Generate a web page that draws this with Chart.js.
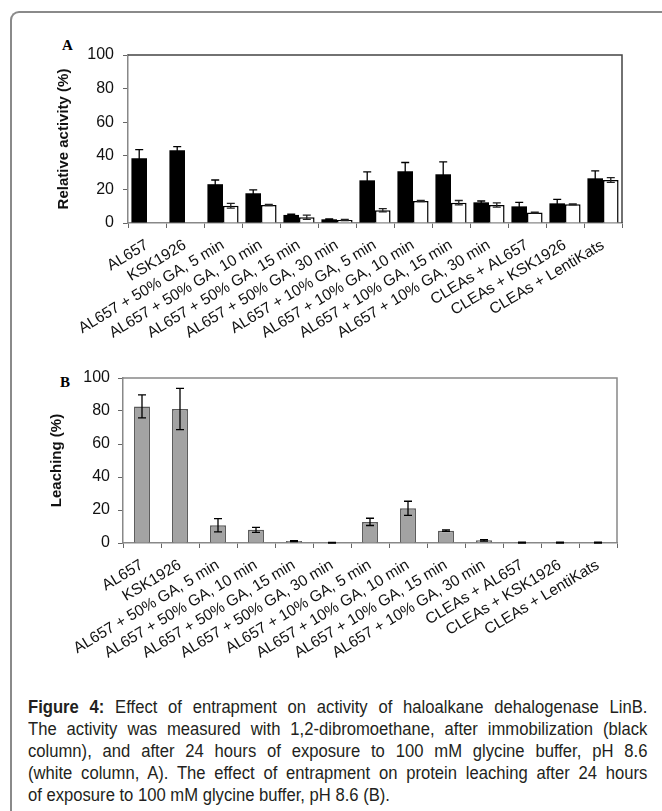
<!DOCTYPE html>
<html>
<head>
<meta charset="utf-8">
<script src="https://cdn.jsdelivr.net/npm/chart.js@4.4.1/dist/chart.umd.min.js"></script>
<style>
  html, body { margin: 0; padding: 0; background: #fff; }
  body { width: 662px; height: 811px; position: relative; overflow: hidden; font-family: "Liberation Sans", Arial, sans-serif; }
  #frame {
    position: absolute; left: 10px; top: 11px; width: 700px; height: 850px;
    border-top: 2px solid #8a8a8a; border-left: 2px solid #8a8a8a;
    border-top-left-radius: 9px;
  }
  .wrap { position: absolute; left: 0; width: 650px; }
  #wrapA { top: 30px; height: 330px; }
  #wrapB { top: 350px; height: 330px; }
  .panel {
    position: absolute; font-family: "Liberation Serif", "Times New Roman", serif;
    font-weight: bold; font-size: 15px; color: #000;
  }
  #caption {
    position: absolute; left: 28px; top: 696px; width: 620px;
    font-family: "Liberation Sans", Arial, sans-serif;
    font-size: 17.5px; line-height: 22px; color: #231f20;
  }
  #caption div {
    width: 652px; transform: scaleX(0.95); transform-origin: 0 0;
    text-align: justify; text-align-last: justify; white-space: nowrap;
  }
  #caption div.last { text-align-last: left; }
</style>
</head>
<body>
<div id="frame"></div>
<div class="panel" style="left:62px; top:37px;">A</div>
<div class="panel" style="left:60px; top:374px;">B</div>
<div class="wrap" id="wrapA"><canvas id="chartA"></canvas></div>
<div class="wrap" id="wrapB"><canvas id="chartB"></canvas></div>
<div id="caption">
  <div><b>Figure 4:</b> Effect of entrapment on activity of haloalkane dehalogenase LinB.</div>
  <div>The activity was measured with 1,2-dibromoethane, after immobilization (black</div>
  <div>column), and after 24 hours of exposure to 100 mM glycine buffer, pH 8.6</div>
  <div>(white column, A). The effect of entrapment on protein leaching after 24 hours</div>
  <div class="last">of exposure to 100 mM glycine buffer, pH 8.6 (B).</div>
</div>

<script>
// categories shared by both panels
const categories = [
  'AL657', 'KSK1926',
  'AL657 + 50% GA, 5 min', 'AL657 + 50% GA, 10 min', 'AL657 + 50% GA, 15 min', 'AL657 + 50% GA, 30 min',
  'AL657 + 10% GA, 5 min', 'AL657 + 10% GA, 10 min', 'AL657 + 10% GA, 15 min', 'AL657 + 10% GA, 30 min',
  'CLEAs + AL657', 'CLEAs + KSK1926', 'CLEAs + LentiKats'
];

// panel A: relative activity (%)
const activityAfterImmob = [38.6, 43.3, 23.1, 17.7, 4.8, 2.2, 25.4, 30.8, 29.0, 12.3, 9.9, 11.7, 26.6];
const activityAfterImmobErr = [5.1, 2.2, 2.5, 2.0, 0.4, 0.2, 5.0, 5.2, 7.4, 0.8, 2.4, 2.4, 4.4];
const activityAfter24h = [0.3, 0.3, 10.3, 10.7, 3.4, 1.8, 7.6, 13.1, 12.1, 10.7, 6.2, 11.1, 25.6];
const activityAfter24hErr = [0, 0, 1.4, 0.3, 1.3, 0.4, 1.0, 0.3, 1.3, 1.3, 0.3, 0.3, 1.4];

// panel B: leaching (%)
const leaching = [82.8, 81.2, 10.8, 8.0, 1.2, 0, 12.8, 21.0, 7.5, 1.6, 0.2, 0.2, 0.2];
const leachingErr = [7.0, 12.5, 4.0, 1.5, 0.3, 0.3, 2.2, 4.3, 0.5, 0.5, 0.3, 0.3, 0.3];

const yTicks = [0, 20, 40, 60, 80, 100];

const errorBars = {
  id: 'errorBars',
  afterDatasetsDraw(chart) {
    const ctx = chart.ctx;
    const y = chart.scales.y;
    chart.data.datasets.forEach((ds, i) => {
      if (!ds.errors) return;
      const meta = chart.getDatasetMeta(i);
      meta.data.forEach((bar, j) => {
        const err = ds.errors[j];
        if (!err) return;
        const v = ds.data[j];
        const top = y.getPixelForValue(v + err);
        const bot = y.getPixelForValue(Math.max(0, v - err));
        const x = bar.x;
        ctx.save();
        ctx.strokeStyle = ds.errorColor || '#000';
        ctx.lineWidth = 1.3;
        ctx.beginPath();
        ctx.moveTo(x, top); ctx.lineTo(x, bot);
        ctx.moveTo(x - 4, top); ctx.lineTo(x + 4, top);
        ctx.moveTo(x - 4, bot); ctx.lineTo(x + 4, bot);
        ctx.stroke();
        ctx.restore();
      });
    });
  }
};

const frameLines = {
  id: 'frameLines',
  afterDraw(chart, args, opts) {
    const { ctx, chartArea: a } = chart;
    ctx.save();
    ctx.strokeStyle = opts.color || '#555';
    ctx.lineWidth = 1.5;
    ctx.beginPath();
    ctx.moveTo(a.left, a.top);
    ctx.lineTo(a.right, a.top);
    ctx.lineTo(a.right, a.bottom);
    ctx.stroke();
    ctx.restore();
  }
};

function makeOptions(cfg) {
  return {
    responsive: false,
    animation: false,
    layout: { padding: { left: cfg.padLeft, top: cfg.padTop, right: cfg.padRight, bottom: 0 } },
    plugins: {
      legend: { display: false },
      tooltip: { enabled: false },
      frameLines: { color: cfg.frameColor }
    },
    scales: {
      x: {
        grid: { display: true, drawOnChartArea: false, offset: true, tickLength: 5, color: '#666' },
        border: { color: '#888', width: 1.5 },
        ticks: {
          autoSkip: false, minRotation: 31, maxRotation: 31, padding: 8,
          color: '#111', font: { family: 'Liberation Sans', size: 15.5 }
        },
        afterFit: s => { s.height = cfg.xHeight; }
      },
      y: {
        min: 0, max: 100,
        afterBuildTicks: s => { s.ticks = yTicks.map(v => ({ value: v })); },
        grid: { display: true, drawOnChartArea: false, tickLength: 5, color: '#666' },
        border: { color: '#888', width: 1.5 },
        ticks: { padding: cfg.tickPad, color: '#111', font: { family: 'Liberation Sans', size: 16 } },
        title: {
          display: true, text: cfg.yTitle, color: '#111', padding: { top: 4, bottom: 0 },
          font: { family: 'Liberation Sans', size: 15, weight: 'bold' }
        },
        afterFit: s => { s.width = cfg.yWidth; }
      }
    }
  };
}

const cA = document.getElementById('chartA');
cA.width = 650; cA.height = 330;
new Chart(cA, {
  type: 'bar',
  data: {
    labels: categories,
    datasets: [
      {
        data: activityAfterImmob, errors: activityAfterImmobErr, errorColor: '#000',
        backgroundColor: '#000', borderWidth: 0,
        categoryPercentage: 0.82, barPercentage: 1
      },
      {
        data: activityAfter24h, errors: activityAfter24hErr, errorColor: '#222',
        backgroundColor: '#fff', borderColor: '#000', borderWidth: 1.5,
        categoryPercentage: 0.82, barPercentage: 1
      }
    ]
  },
  options: makeOptions({
    padLeft: 51, padTop: 25, padRight: 28, xHeight: 137, yWidth: 77, tickPad: 9,
    yTitle: 'Relative activity (%)', frameColor: '#444'
  }),
  plugins: [errorBars, frameLines]
});

const cB = document.getElementById('chartB');
cB.width = 650; cB.height = 330;
new Chart(cB, {
  type: 'bar',
  data: {
    labels: categories,
    datasets: [
      {
        data: leaching, errors: leachingErr, errorColor: '#000',
        backgroundColor: '#a3a3a3', borderColor: '#5a5a5a', borderWidth: 1.5,
        categoryPercentage: 1, barPercentage: 0.42
      }
    ]
  },
  options: makeOptions({
    padLeft: 44, padTop: 28, padRight: 33, xHeight: 137, yWidth: 79, tickPad: 8,
    yTitle: 'Leaching (%)', frameColor: '#888'
  }),
  plugins: [errorBars, frameLines]
});
</script>
</body>
</html>
